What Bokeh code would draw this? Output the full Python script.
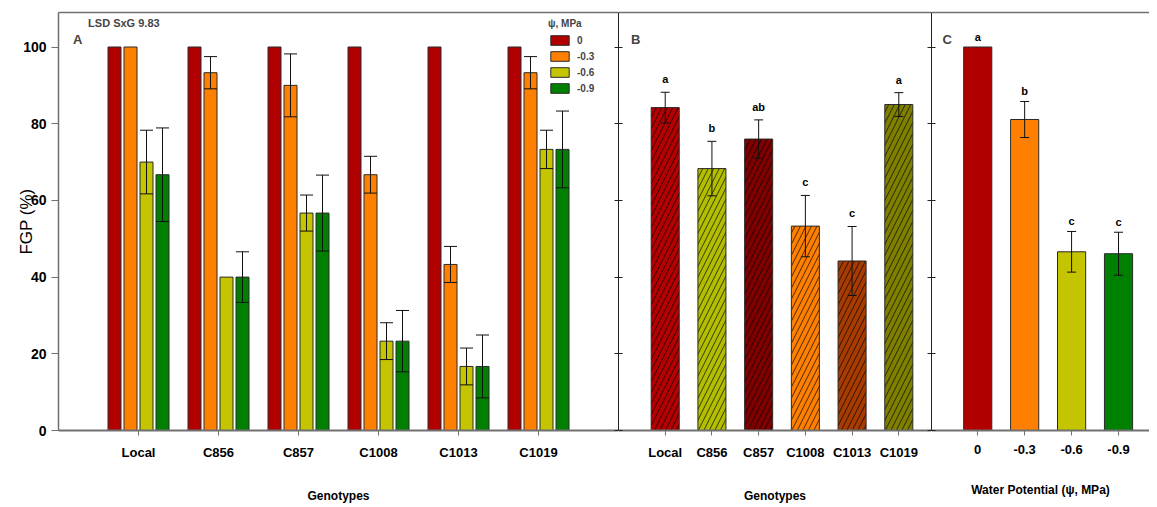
import numpy as np
from bokeh.plotting import figure
from bokeh.models import (Range1d, FixedTicker, LinearAxis, ColumnDataSource,
                          Whisker, TeeHead, Label)
from bokeh.layouts import row
from bokeh.embed import file_html
from bokeh.resources import INLINE
from bokeh.core.properties import value

# ---------------- data ----------------
genotypes = ["Local", "C856", "C857", "C1008", "C1013", "C1019"]
psi_levels = ["0", "-0.3", "-0.6", "-0.9"]

# Panel A: FGP (%) per genotype for each water potential
fgp_psi_0 = [100, 100, 100, 100, 100, 100]
fgp_psi_03 = [100, 93.3, 90.0, 66.7, 43.3, 93.3]
fgp_psi_06 = [70.0, 40.0, 56.7, 23.3, 16.7, 73.3]
fgp_psi_09 = [66.7, 40.0, 56.7, 23.3, 16.7, 73.3]
err_psi_0 = [0, 0, 0, 0, 0, 0]
err_psi_03 = [0, 4.2, 8.2, 4.8, 4.7, 4.2]
err_psi_06 = [8.3, 0, 4.7, 4.8, 4.8, 5.0]
err_psi_09 = [12.2, 6.6, 9.9, 8.0, 8.2, 10.0]

# Panel B: genotype means
geno_mean = [84.2, 68.3, 76.0, 53.3, 44.2, 85.0]
geno_err = [4.0, 7.1, 5.0, 8.0, 9.0, 3.1]
geno_letters = ["a", "b", "ab", "c", "c", "a"]

# Panel C: water potential means
psi_mean = [100, 81.1, 46.6, 46.1]
psi_err = [0, 4.7, 5.3, 5.6]
psi_letters = ["a", "b", "c", "c"]

y_ticks = [0, 20, 40, 60, 80, 100]

# ---------------- styles ----------------
FONT = "Liberation Sans"
psi_colors = ["#B00000", "#FF8000", "#C4C400", "#008000"]
geno_colors = ["#B40000", "#B4BE00", "#800000", "#FF8000", "#A83C00", "#808000"]
BAR_LINE = "#2a2a2a"
AXIS_GRAY = "#707070"
H = 505


def make_fig(width, xr, min_left):
    p = figure(width=width, height=H, x_range=Range1d(*xr), y_range=Range1d(0, 109),
               output_backend="svg", toolbar_location=None,
               min_border_left=min_left, min_border_right=0,
               min_border_top=12, min_border_bottom=74)
    p.outline_line_color = None
    p.grid.visible = False
    p.background_fill_color = "white"
    p.border_fill_color = "white"
    return p


def add_top_line(p):
    top = LinearAxis(ticker=FixedTicker(ticks=[]), major_tick_in=0, major_tick_out=0,
                     minor_tick_in=0, minor_tick_out=0,
                     major_label_text_font_size="1px", major_label_text_color=None,
                     major_label_standoff=0, axis_line_color=AXIS_GRAY, axis_line_width=1.5)
    p.add_layout(top, "above")


def style_xaxis(p, labels, title):
    ax = p.below[0]
    ax.ticker = FixedTicker(ticks=list(range(len(labels))))
    ax.major_label_overrides = {i: lab for i, lab in enumerate(labels)}
    ax.major_tick_out = 5
    ax.major_tick_in = 0
    ax.minor_tick_line_color = None
    ax.minor_tick_out = 0
    ax.major_tick_line_color = AXIS_GRAY
    ax.axis_line_color = AXIS_GRAY
    ax.axis_line_width = 2
    ax.major_label_standoff = 9
    ax.major_label_text_font = FONT
    ax.major_label_text_font_size = "13px"
    ax.major_label_text_font_style = "bold"
    ax.major_label_text_color = "black"
    ax.axis_label = title
    ax.axis_label_standoff = 26
    ax.axis_label_text_font = FONT
    ax.axis_label_text_font_size = "12px"
    ax.axis_label_text_font_style = "bold"
    ax.axis_label_text_color = "black"


def style_yaxis_hidden(ax, line=True):
    ax.ticker = FixedTicker(ticks=y_ticks)
    ax.major_tick_in = 4
    ax.major_tick_out = 0
    ax.minor_tick_line_color = None
    ax.minor_tick_in = 0
    ax.minor_tick_out = 0
    ax.major_tick_line_color = "#222222"
    ax.major_label_text_font_size = "1px"
    ax.major_label_text_color = None
    ax.major_label_standoff = 0
    if line:
        ax.axis_line_color = "#222222"
        ax.axis_line_width = 1
    else:
        ax.axis_line_color = None


def add_whiskers(p, xs, means, errs, head):
    xs2, up, lo = [], [], []
    for x, m, e in zip(xs, means, errs):
        if e > 0:
            xs2.append(x)
            up.append(m + e)
            lo.append(m - e)
    src = ColumnDataSource(dict(x=xs2, upper=up, lower=lo))
    w = Whisker(source=src, base="x", upper="upper", lower="lower",
                line_color="#111111", line_width=1, level="annotation",
                upper_head=TeeHead(size=head, line_color="#111111", line_width=1),
                lower_head=TeeHead(size=head, line_color="#111111", line_width=1))
    p.add_layout(w)


# ---------------- Panel A ----------------
pA = make_fig(618, (-1.0, 6.0), 58)
style_xaxis(pA, genotypes, "Genotypes")
ya = pA.left[0]
ya.ticker = FixedTicker(ticks=y_ticks)
ya.major_tick_out = 7
ya.major_tick_in = 0
ya.minor_tick_line_color = None
ya.minor_tick_out = 0
ya.axis_line_color = AXIS_GRAY
ya.axis_line_width = 1.5
ya.major_tick_line_color = AXIS_GRAY
ya.major_label_standoff = 5
ya.major_label_text_font = FONT
ya.major_label_text_font_size = "14px"
ya.major_label_text_font_style = "bold"
ya.major_label_text_color = "black"
ya.axis_label = "FGP (%)"
ya.axis_label_standoff = -16
ya.axis_label_text_font = FONT
ya.axis_label_text_font_size = "17px"
ya.axis_label_text_font_style = "normal"
ya.axis_label_text_color = "black"
add_top_line(pA)

ra = LinearAxis()
style_yaxis_hidden(ra, line=False)
pA.add_layout(ra, "right")

series_vals = [fgp_psi_0, fgp_psi_03, fgp_psi_06, fgp_psi_09]
series_errs = [err_psi_0, err_psi_03, err_psi_06, err_psi_09]
idx = np.arange(len(genotypes))
for i, (vals, errs) in enumerate(zip(series_vals, series_errs)):
    xs = idx + (i - 1.5) * 0.2
    src = ColumnDataSource(dict(x=xs, top=vals))
    pA.vbar(x="x", top="top", width=0.1625, bottom=0, source=src,
            fill_color=psi_colors[i], line_color=BAR_LINE, line_width=1,
            legend_label=psi_levels[i])
    add_whiskers(pA, xs, vals, errs, 13)

lg = pA.legend[0]
lg.location = (490, 336)
lg.title = "ψ, MPa"
lg.title_text_font = FONT
lg.title_text_font_size = "10px"
lg.title_text_font_style = "bold"
lg.title_standoff = 5
lg.label_text_font = FONT
lg.label_text_font_size = "10px"
lg.label_text_font_style = "bold"
lg.glyph_width = 23
lg.glyph_height = 12
lg.label_height = 12
lg.spacing = 4
lg.padding = 2
lg.margin = 0
lg.label_standoff = 6
lg.border_line_color = None
lg.background_fill_alpha = 0

pA.add_layout(Label(x=-0.63, y=106.2, text="LSD SxG 9.83", text_font=FONT,
                    text_font_size="11px", text_font_style="bold",
                    text_baseline="middle"))
pA.add_layout(Label(x=-0.82, y=102, text="A", text_font=FONT,
                    text_font_size="13px", text_font_style="bold",
                    text_baseline="middle"))

# ---------------- Panel B ----------------
pB = make_fig(313, (-1.0, 5.7), 0)
style_xaxis(pB, genotypes, "Genotypes")
style_yaxis_hidden(pB.left[0], line=True)
add_top_line(pB)
rb = LinearAxis()
style_yaxis_hidden(rb, line=False)
pB.add_layout(rb, "right")

srcB = ColumnDataSource(dict(x=list(range(len(genotypes))), top=geno_mean,
                             color=geno_colors,
                             ly=[m + e for m, e in zip(geno_mean, geno_err)],
                             txt=geno_letters))
pB.vbar(x="x", top="top", width=0.6, bottom=0, source=srcB, fill_color="color",
        line_color=BAR_LINE, line_width=1, hatch_pattern="/", hatch_color="black",
        hatch_scale=11, hatch_weight=0.7)
add_whiskers(pB, list(range(len(genotypes))), geno_mean, geno_err, 9)
pB.text(x="x", y="ly", text="txt", source=srcB, text_align="center",
        text_baseline="bottom", y_offset=-7, text_font=value(FONT),
        text_font_size="11px", text_font_style="bold", text_color="black")
pB.add_layout(Label(x=-0.63, y=102, text="B", text_font=FONT, text_font_size="13px",
                    text_font_style="bold", text_align="center",
                    text_baseline="middle"))

# ---------------- Panel C ----------------
pC = make_fig(218, (-0.985, 3.66), 0)
style_xaxis(pC, psi_levels, "Water Potential (ψ, MPa)")
style_yaxis_hidden(pC.left[0], line=True)
add_top_line(pC)

srcC = ColumnDataSource(dict(x=list(range(len(psi_levels))), top=psi_mean,
                             color=psi_colors,
                             ly=[m + e for m, e in zip(psi_mean, psi_err)],
                             txt=psi_letters))
pC.vbar(x="x", top="top", width=0.6, bottom=0, source=srcC, fill_color="color",
        line_color=BAR_LINE, line_width=1)
add_whiskers(pC, list(range(len(psi_levels))), psi_mean, psi_err, 9)
pC.text(x="x", y="ly", text="txt", source=srcC, text_align="center",
        text_baseline="bottom", y_offset=-4, text_font=value(FONT),
        text_font_size="11px", text_font_style="bold", text_color="black")
pC.add_layout(Label(x=-0.65, y=102, text="C", text_font=FONT, text_font_size="13px",
                    text_font_style="bold", text_align="center",
                    text_baseline="middle"))

layout = row(pA, pB, pC)
open("out.html", "w").write(file_html(layout, INLINE))
